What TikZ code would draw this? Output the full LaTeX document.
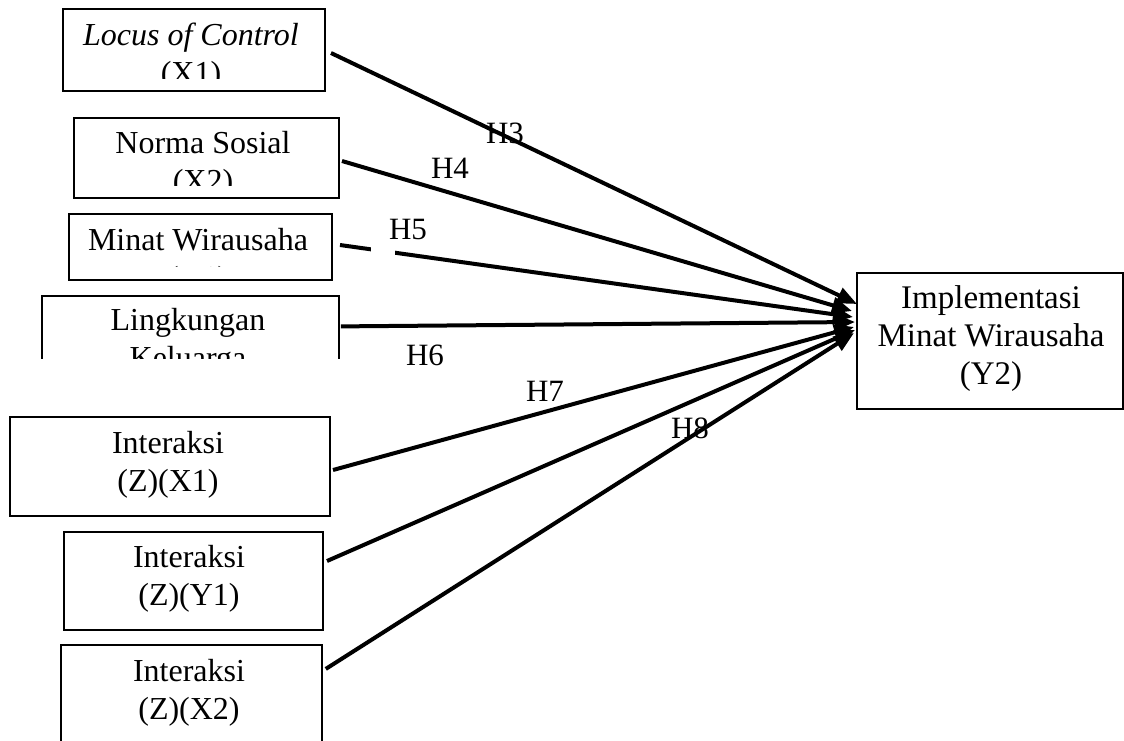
\documentclass[tikz,border=0pt]{standalone}
\usepackage{fontspec}
\setmainfont{Liberation Serif}
\usetikzlibrary{calc,arrows.meta}
\begin{document}
\begin{tikzpicture}[x=0.5pt,y=-0.5pt,
  box/.style={draw=black,line width=1pt,inner sep=0pt,anchor=north west},
  openbox/.style={draw=none,inner sep=0pt,anchor=north west},
  txt/.style={align=center,font=\fontsize{16pt}{19pt}\selectfont,inner sep=0pt},
  hlabel/.style={font=\fontsize{15.5pt}{19pt}\selectfont,inner sep=0pt},
  link/.style={line width=2pt,-{Triangle[length=10pt,width=8pt]}}]
\useasboundingbox (0,0) rectangle (1124,740);

% boxes (sizes in px units)
\node[box,minimum width=131pt,minimum height=41pt] (b1) at (62,8) {};
\node[box,minimum width=132.5pt,minimum height=40pt] (b2) at (73,117) {};
\node[box,minimum width=131.5pt,minimum height=33pt] (b3) at (68,213) {};
\node[openbox,minimum width=148pt,minimum height=31pt] (b4) at (42,296) {};
\node[box,minimum width=160pt,minimum height=49.5pt] (b5) at (9,416) {};
\node[box,minimum width=129.5pt,minimum height=49pt] (b6) at (63,531) {};
\node[openbox,minimum width=130pt,minimum height=47.5pt] (b7) at (61,645) {};
\node[box,minimum width=133pt,minimum height=68pt] (y2) at (856,272) {};

% boxes left open at the bottom
\draw[line width=1pt] (b4.south west) |- (b4.north east) -- (b4.south east);
\draw[line width=1pt] (b7.south west) |- (b7.north east) -- (b7.south east);

% box texts, cut off where the frames cut them
\begin{scope}
  \clip (62,8) rectangle (324,78);
  \node[txt] (t1) at (191,57) {\textit{Locus of Control}\\(X1)};
\end{scope}
\begin{scope}
  \clip (73,117) rectangle (338,185);
  \node[txt] (t2) at (203,165) {Norma Sosial\\(X2)};
\end{scope}
\begin{scope}
  \clip (68,213) rectangle (331,266);
  \node[txt] (t3) at (198,262) {Minat Wirausaha\\(Y1)};
\end{scope}
\begin{scope}
  \clip (42,296) rectangle (338,358);
  \node[txt] (t4) at (188,342) {Lingkungan\\Keluarga};
\end{scope}
\node[txt] (t5) at (168,465) {Interaksi\\(Z)(X1)};
\node[txt] (t6) at (189,579) {Interaksi\\(Z)(Y1)};
\node[txt] (t7) at (189,693) {Interaksi\\(Z)(X2)};
\node[txt,font=\fontsize{16.5pt}{19pt}\selectfont] (t8) at (991,339) {Implementasi\\Minat Wirausaha\\(Y2)};

% paths into the dependent variable
\draw[link] ($(b1.east)+(5,3)$) -- ($(y2.west)+(1,-37)$);
\draw[link] ($(b2.east)+(2,3)$) -- ($(y2.west)+(-4,-30)$);
\draw[link] ($(b3.east)+(7,-2)$) -- ($(y2.west)+(-3,-24)$);
\draw[link] ($(b4.east)+(2,-1)$) -- ($(y2.west)+(-1,-19)$);
\draw[link] ($(b5.east)+(2,3.5)$) -- ($(y2.west)+(-2,-14)$);
\draw[link] ($(b6.east)+(3,-20)$) -- ($(y2.west)+(-1,-11)$);
\draw[link] ($(b7.east)+(4,-24)$) -- ($(y2.west)+(-2,-8)$);

% blank patch interrupting the H5 path
\fill[white] (371,240) rectangle (395,258);

% hypothesis labels
\node[hlabel] (h3) at (505,133) {H3};
\node[hlabel] (h4) at (450,168) {H4};
\node[hlabel] (h5) at (408,229) {H5};
\node[hlabel] (h6) at (425,355) {H6};
\node[hlabel] (h7) at (545,391) {H7};
\node[hlabel] (h8) at (690,428) {H8};
\end{tikzpicture}
\end{document}
